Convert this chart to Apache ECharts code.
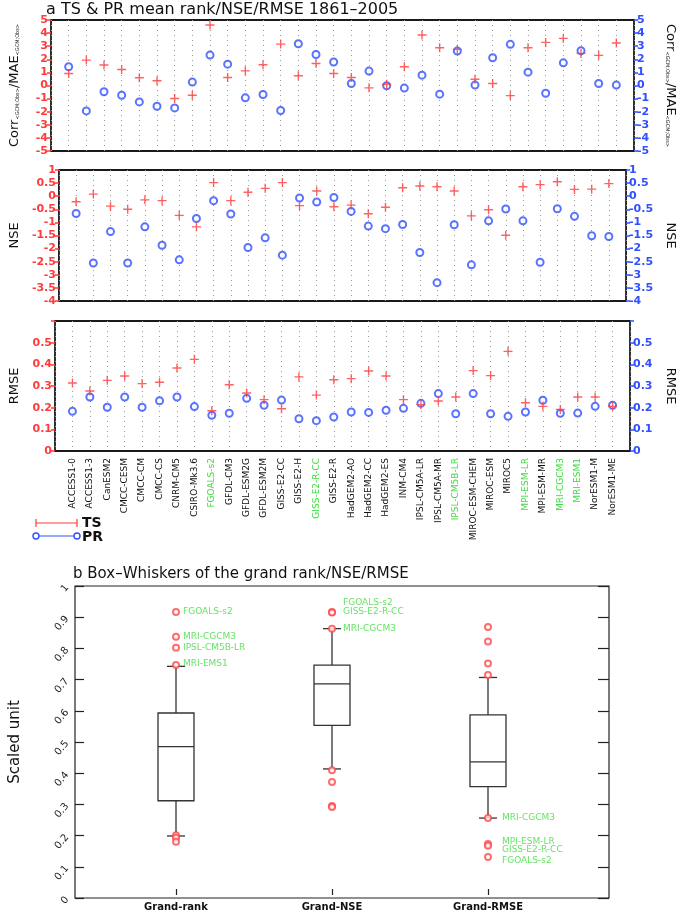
<!DOCTYPE html>
<html>
<head>
<meta charset="utf-8">
<script src="https://cdn.jsdelivr.net/npm/echarts@6/dist/echarts.min.js"></script>
<style>
  html, body { margin: 0; background: #fff; }
  #main { width: 685px; height: 912px; }
</style>
</head>
<body>
<div id="main"></div>
<script>
// model names (x axis of panel a)
const models = ["ACCESS1-0", "ACCESS1-3", "CanESM2", "CMCC-CESM", "CMCC-CM", "CMCC-CS", "CNRM-CM5",
  "CSIRO-Mk3.6", "FGOALS-s2", "GFDL-CM3", "GFDL-ESM2G", "GFDL-ESM2M", "GISS-E2-CC", "GISS-E2-H",
  "GISS-E2-R-CC", "GISS-E2-R", "HadGEM2-AO", "HadGEM2-CC", "HadGEM2-ES", "INM-CM4", "IPSL-CM5A-LR",
  "IPSL-CM5A-MR", "IPSL-CM5B-LR", "MIROC-ESM-CHEM", "MIROC-ESM", "MIROC5", "MPI-ESM-LR", "MPI-ESM-MR",
  "MRI-CGCM3", "MRI-ESM1", "NorESM1-M", "NorESM1-ME"];
const bestModels = ["FGOALS-s2", "GISS-E2-R-CC", "IPSL-CM5B-LR", "MPI-ESM-LR", "MRI-CGCM3", "MRI-ESM1"];

// mean rank (Corr/MAE)
const tsRank = [0.92, 1.94, 1.56, 1.22, 0.59, 0.36, -0.99, -0.74, 4.62, 0.61, 1.12, 1.58, 3.16, 0.74, 1.68, 0.92,
  0.61, -0.18, 0.10, 1.43, 3.85, 2.88, 2.76, 0.48, 0.15, -0.77, 2.88, 3.29, 3.60, 2.45, 2.30, 3.24];
const prRank = [1.43, -1.94, -0.48, -0.74, -1.25, -1.58, -1.71, 0.26, 2.32, 1.63, -0.94, -0.69, -1.91, 3.19, 2.37, 1.79,
  0.15, 1.10, -0.02, -0.20, 0.79, -0.66, 2.63, 0.03, 2.12, 3.14, 1.02, -0.59, 1.73, 2.65, 0.15, 0.03];

// NSE
const tsNse = [-0.21, 0.08, -0.38, -0.50, -0.14, -0.17, -0.73, -1.17, 0.52, -0.17, 0.15, 0.30, 0.52, -0.36, 0.20, -0.40,
  -0.34, -0.67, -0.42, 0.32, 0.39, 0.36, 0.20, -0.75, -0.52, -1.49, 0.36, 0.44, 0.55, 0.26, 0.27, 0.48];
const prNse = [-0.66, -2.55, -1.35, -2.55, -1.17, -1.87, -2.43, -0.85, -0.17, -0.68, -1.96, -1.59, -2.25, -0.07, -0.22, -0.05,
  -0.58, -1.14, -1.24, -1.08, -2.15, -3.30, -1.09, -2.62, -0.94, -0.49, -0.94, -2.52, -0.48, -0.77, -1.51, -1.54];

// RMSE
const tsRmse = [0.314, 0.277, 0.326, 0.346, 0.311, 0.317, 0.383, 0.423, 0.186, 0.306, 0.268, 0.237, 0.195, 0.342, 0.258, 0.329,
  0.334, 0.369, 0.346, 0.237, 0.214, 0.231, 0.249, 0.371, 0.348, 0.460, 0.223, 0.206, 0.192, 0.249, 0.249, 0.206];
const prRmse = [0.183, 0.249, 0.202, 0.249, 0.202, 0.232, 0.249, 0.205, 0.165, 0.174, 0.243, 0.211, 0.235, 0.149, 0.140, 0.157,
  0.180, 0.178, 0.188, 0.197, 0.220, 0.265, 0.172, 0.265, 0.172, 0.160, 0.180, 0.234, 0.174, 0.175, 0.206, 0.211];

// panel b: box-whiskers [low whisker, Q1, median, Q3, high whisker]
const boxCats = ["Grand-rank", "Grand-NSE", "Grand-RMSE"];
const boxStats = [
  [0.191, 0.305, 0.480, 0.589, 0.740],
  [0.408, 0.549, 0.683, 0.744, 0.862],
  [0.249, 0.351, 0.431, 0.583, 0.704]
];
const outliers = [
  [0, 0.916], [0, 0.836], [0, 0.800], [0, 0.744], [0, 0.193], [0, 0.185], [0, 0.172],
  [1, 0.916], [1, 0.914], [1, 0.862], [1, 0.404], [1, 0.366], [1, 0.288], [1, 0.285],
  [2, 0.867], [2, 0.820], [2, 0.749], [2, 0.712], [2, 0.249], [2, 0.165], [2, 0.159], [2, 0.123]
];
// outlier name tags [box, y, text]
const outlierTags = [
  [0, 0.916, "FGOALS-s2"], [0, 0.836, "MRI-CGCM3"], [0, 0.800, "IPSL-CM5B-LR"], [0, 0.750, "MRI-EMS1"],
  [1, 0.947, "FGOALS-s2"], [1, 0.916, "GISS-E2-R-CC"], [1, 0.862, "MRI-CGCM3"],
  [2, 0.251, "MRI-CGCM3"], [2, 0.173, "MPI-ESM-LR"], [2, 0.146, "GISS-E2-R-CC"], [2, 0.111, "FGOALS-s2"]
];

const RED = "#ff3b3b", BLUE = "#3050ff", GREEN = "#3cdc3c";
const FONT = "DejaVu Sans";
const plusPath = "path://M0,5L10,5M5,0L5,10";

const chart = echarts.init(document.getElementById("main"));

const panelGrids = [
  { left: 45, right: 46, top: 20, height: 131 },
  { left: 45, right: 46, top: 170, height: 131 },
  { left: 45, right: 46, top: 321, height: 130 }
];
const panelY = [
  { min: -5, max: 5, interval: 1, name: "Corr{s|<GCM;Obs>}/MAE{s|<GCM;Obs>}", gap: 30 },
  { min: -4, max: 1, interval: 0.5, name: "NSE", gap: 34 },
  { min: 0, max: 0.6, interval: 0.1, name: "RMSE", gap: 34 }
];

const grids = panelGrids.map(g => Object.assign({ show: true, borderColor: "#1a1a1a", borderWidth: 1.8 }, g));
grids.push({ show: true, borderColor: "#222", borderWidth: 1.2, left: 73, right: 76, top: 586, height: 312 });
grids.push({ left: 98, width: 468, top: 586, height: 312 });

const xAxes = [], yAxes = [], series = [];

panelY.forEach((p, i) => {
  const last = i === 2;
  xAxes.push({
    type: "value", gridIndex: i, min: 0, max: 33, interval: 1,
    axisLine: { show: false }, axisTick: { show: false },
    splitLine: { show: true, lineStyle: { color: "#999", type: [1, 4], width: 1 } },
    axisLabel: {
      show: last, rotate: 90, margin: 7, fontFamily: FONT, fontSize: 9,
      formatter: v => {
        const m = models[v - 1];
        if (!m) return "";
        return bestModels.includes(m) ? "{g|" + m + "}" : "{k|" + m + "}";
      },
      rich: { g: { color: GREEN, fontFamily: FONT, fontSize: 9 }, k: { color: "#111", fontFamily: FONT, fontSize: 9 } }
    }
  });
  const fmt = v => (last && v > 0.55) ? "" : String(+v.toFixed(2));
  ["left", "right"].forEach(side => {
    const col = side === "left" ? RED : BLUE;
    yAxes.push({
      type: "value", gridIndex: i, position: side, min: p.min, max: p.max, interval: p.interval,
      axisLine: { show: false },
      axisTick: { show: true, length: 4, lineStyle: { color: col, width: 1.5 } },
      splitLine: { show: false },
      axisLabel: { color: col, fontWeight: "bold", fontFamily: FONT, fontSize: 11, margin: 3, formatter: fmt },
      name: p.name, nameLocation: "middle", nameGap: p.gap, nameRotate: side === "left" ? 90 : -90,
      nameTextStyle: { color: "#111", fontFamily: FONT, fontSize: 13, rich: { s: { fontSize: 5, fontFamily: FONT, color: "#111", padding: [6, 0, 0, 0] } } }
    });
  });
});

const panelData = [[tsRank, prRank], [tsNse, prNse], [tsRmse, prRmse]];
panelData.forEach((pair, i) => {
  series.push({
    type: "scatter", xAxisIndex: i, yAxisIndex: i * 2, name: "TS",
    symbol: plusPath, symbolSize: 9,
    itemStyle: { color: "none", borderColor: RED, borderWidth: 1.4 },
    data: pair[0].map((v, k) => [k + 1, v]), z: 3
  });
  series.push({
    type: "scatter", xAxisIndex: i, yAxisIndex: i * 2, name: "PR",
    symbol: "emptyCircle", symbolSize: 7,
    itemStyle: { color: BLUE, borderColor: BLUE, borderWidth: 1.5 },
    data: pair[1].map((v, k) => [k + 1, v]), z: 2
  });
});

// panel b frame (grid 3) and data grid (grid 4)
xAxes.push({ type: "value", gridIndex: 3, min: 0, max: 1, show: false });
yAxes.push({
  type: "value", gridIndex: 3, position: "left", min: 0, max: 1, interval: 0.1,
  axisLine: { show: false }, splitLine: { show: false },
  axisTick: { show: true, inside: true, length: 9, lineStyle: { color: "#222", width: 1.2 } },
  axisLabel: { rotate: 50, margin: 8, color: "#222", fontFamily: FONT, fontSize: 10 },
  name: "Scaled unit", nameLocation: "middle", nameGap: 52, nameRotate: 90,
  nameTextStyle: { color: "#111", fontFamily: FONT, fontSize: 15 }
});
yAxes.push({
  type: "value", gridIndex: 3, position: "right", min: 0, max: 1, interval: 0.1,
  axisLine: { show: false }, splitLine: { show: false }, axisLabel: { show: false },
  axisTick: { show: true, inside: true, length: 11, lineStyle: { color: "#222", width: 1.2 } }
});
xAxes.push({
  type: "category", gridIndex: 4, data: boxCats,
  axisLine: { show: false },
  axisTick: { show: true, inside: true, alignWithLabel: true, length: 6, lineStyle: { color: "#222", width: 1.2 } },
  axisLabel: { margin: 7, color: "#111", fontFamily: FONT, fontSize: 10, fontWeight: "bold" }
});
yAxes.push({ type: "value", gridIndex: 4, min: 0, max: 1, show: false });

const boxYIndex = yAxes.length - 1, boxXIndex = xAxes.length - 1;

series.push({
  type: "custom", xAxisIndex: boxXIndex, yAxisIndex: boxYIndex,
  data: boxStats.map((s, i) => [i].concat(s)),
  renderItem: (params, api) => {
    const x = api.value(0);
    const lo = api.coord([x, api.value(1)]), q1 = api.coord([x, api.value(2)]);
    const md = api.coord([x, api.value(3)]), q3 = api.coord([x, api.value(4)]);
    const hi = api.coord([x, api.value(5)]);
    const bw = 18, cw = 9;
    const st = { stroke: "#333", lineWidth: 1.3, fill: "none" };
    const cx = lo[0];
    return {
      type: "group", children: [
        { type: "line", shape: { x1: cx, y1: lo[1], x2: cx, y2: q1[1] }, style: st },
        { type: "line", shape: { x1: cx, y1: hi[1], x2: cx, y2: q3[1] }, style: st },
        { type: "line", shape: { x1: cx - cw, y1: lo[1], x2: cx + cw, y2: lo[1] }, style: st },
        { type: "line", shape: { x1: cx - cw, y1: hi[1], x2: cx + cw, y2: hi[1] }, style: st },
        { type: "rect", shape: { x: cx - bw, y: q3[1], width: 2 * bw, height: q1[1] - q3[1] }, style: st },
        { type: "line", shape: { x1: cx - bw, y1: md[1], x2: cx + bw, y2: md[1] }, style: st }
      ]
    };
  }
});
series.push({
  type: "scatter", xAxisIndex: boxXIndex, yAxisIndex: boxYIndex,
  symbol: "emptyCircle", symbolSize: 6,
  itemStyle: { color: "#ff4a4a", borderColor: "#ff4a4a", borderWidth: 1 },
  data: outliers, z: 4
});
[7, 11, 14].forEach((dist, b) => {
  series.push({
    type: "scatter", xAxisIndex: boxXIndex, yAxisIndex: boxYIndex,
    symbolSize: 0, silent: true,
    label: { show: true, position: "right", distance: dist, color: GREEN, fontFamily: FONT, fontSize: 9, formatter: p => p.data[2] },
    data: outlierTags.filter(t => t[0] === b)
  });
});

// legend drawn as graphic (line with end markers)
const legendG = [
  { type: "line", shape: { x1: 36, y1: 523, x2: 77, y2: 523 }, style: { stroke: RED, lineWidth: 1.2 } },
  { type: "line", shape: { x1: 36, y1: 519, x2: 36, y2: 527 }, style: { stroke: RED, lineWidth: 1.2 } },
  { type: "line", shape: { x1: 77, y1: 519, x2: 77, y2: 527 }, style: { stroke: RED, lineWidth: 1.2 } },
  { type: "text", x: 82, y: 523, style: { text: "TS", fill: "#111", font: "bold 14px " + FONT, verticalAlign: "middle" } },
  { type: "line", shape: { x1: 39, y1: 536, x2: 74, y2: 536 }, style: { stroke: BLUE, lineWidth: 1.2 } },
  { type: "circle", shape: { cx: 36, cy: 536, r: 3 }, style: { stroke: BLUE, fill: "none", lineWidth: 1.4 } },
  { type: "circle", shape: { cx: 77, cy: 536, r: 3 }, style: { stroke: BLUE, fill: "none", lineWidth: 1.4 } },
  { type: "text", x: 82, y: 537, style: { text: "PR", fill: "#111", font: "bold 14px " + FONT, verticalAlign: "middle" } }
];

chart.setOption({
  animation: false,
  backgroundColor: "#fff",
  title: [
    { text: "a TS & PR mean rank/NSE/RMSE 1861\u20132005", left: 41, top: -3,
      textStyle: { fontFamily: FONT, fontSize: 16, fontWeight: "normal", color: "#111" } },
    { text: "b Box\u2013Whiskers of the grand rank/NSE/RMSE", left: 68, top: 562,
      textStyle: { fontFamily: FONT, fontSize: 15, fontWeight: "normal", color: "#111" } }
  ],
  grid: grids,
  xAxis: xAxes,
  yAxis: yAxes,
  series: series,
  graphic: legendG
});
</script>
</body>
</html>
